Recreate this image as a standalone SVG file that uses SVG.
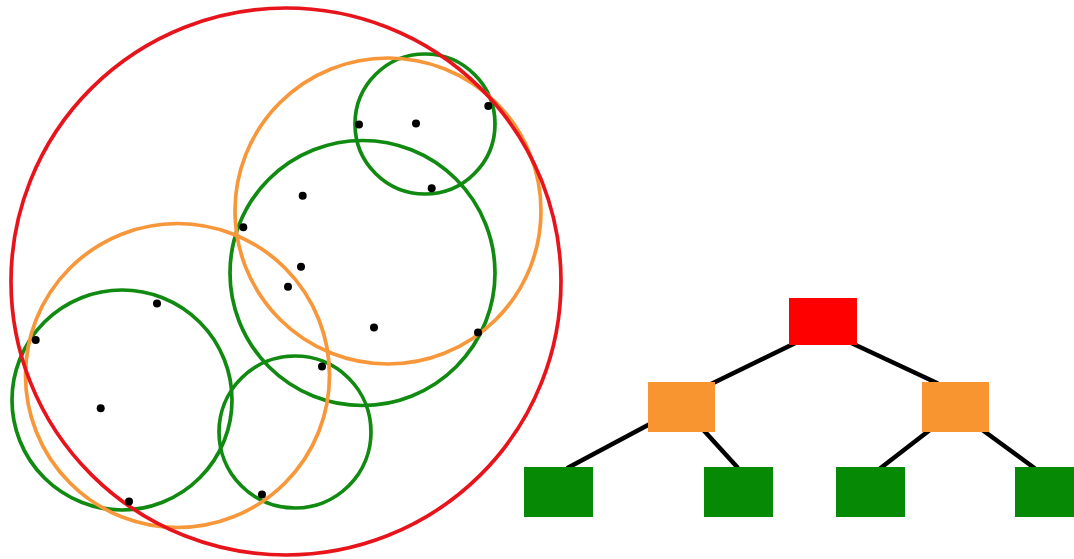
<svg xmlns="http://www.w3.org/2000/svg" width="1074" height="559" viewBox="0 0 1074 559">
<style>
.c{fill:none;stroke-width:3.7}
.red{stroke:#e8141c}
.org{stroke:#f7973a}
.grn{stroke:#118a11}
.dot{fill:#000}
.edge{stroke:#000;stroke-width:4.5}
</style>
<rect width="1074" height="559" fill="#fff"/>
<g id="circles">
<circle id="c-g1" class="c grn" cx="425" cy="124" r="70"/>
<circle id="c-g2" class="c grn" cx="362.5" cy="273" r="132.5"/>
<circle id="c-g3" class="c grn" cx="122" cy="400" r="110"/>
<circle id="c-g4" class="c grn" cx="295" cy="432" r="76"/>
<circle id="c-o1" class="c org" cx="388" cy="211" r="153"/>
<circle id="c-o2" class="c org" cx="177.5" cy="375.5" r="152"/>
<ellipse id="c-root" class="c red" cx="286" cy="281.5" rx="275" ry="273.5"/>
</g>
<g id="points" class="dot">
<circle cx="359" cy="124.5" r="4"/>
<circle cx="416" cy="123.5" r="4"/>
<circle cx="488.3" cy="106" r="4"/>
<circle cx="431.7" cy="188.3" r="4"/>
<circle cx="302.7" cy="195.7" r="4"/>
<circle cx="243.3" cy="227.3" r="4"/>
<circle cx="301" cy="266.7" r="4"/>
<circle cx="288" cy="286.7" r="4"/>
<circle cx="374" cy="327.5" r="4"/>
<circle cx="478" cy="332.5" r="4"/>
<circle cx="322" cy="366.5" r="4"/>
<circle cx="157" cy="303.5" r="4"/>
<circle cx="35.7" cy="340" r="4"/>
<circle cx="100.7" cy="408.3" r="4"/>
<circle cx="129" cy="501.5" r="4"/>
<circle cx="262" cy="494.5" r="4"/>
</g>
<g id="connectors" class="edge">
<line x1="800" y1="340.8" x2="708" y2="385.4"/>
<line x1="846" y1="340.5" x2="938" y2="383.5"/>
<line x1="656" y1="420.8" x2="567" y2="468.2"/>
<line x1="700" y1="426.2" x2="738" y2="468"/>
<line x1="935" y1="426" x2="880" y2="468.5"/>
<line x1="977" y1="426" x2="1035" y2="468.5"/>
</g>
<g id="n-root"><rect x="789" y="298" width="68" height="47" fill="#ff0000"/></g>
<g id="n-o1"><rect x="648" y="382" width="67" height="50" fill="#f89530"/></g>
<g id="n-o2"><rect x="922" y="382" width="67" height="50" fill="#f89530"/></g>
<g id="n-g1"><rect x="524" y="467" width="69" height="50" fill="#068a06"/></g>
<g id="n-g2"><rect x="704" y="467" width="69" height="50" fill="#068a06"/></g>
<g id="n-g3"><rect x="836" y="467" width="69" height="50" fill="#068a06"/></g>
<g id="n-g4"><rect x="1015" y="467" width="69" height="50" fill="#068a06"/></g>
</svg>
